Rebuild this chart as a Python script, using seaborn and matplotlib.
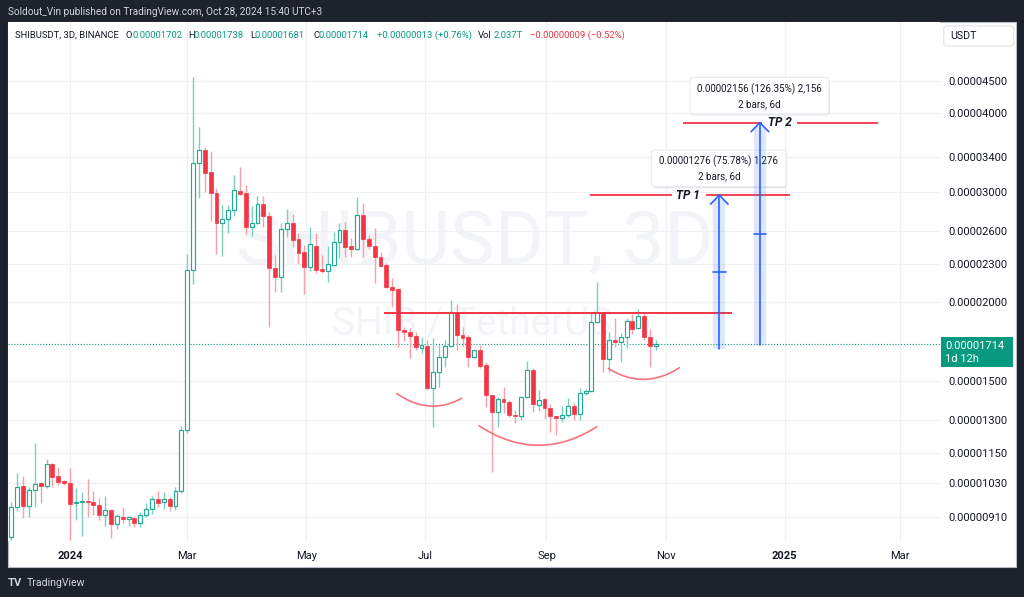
import numpy as np
import pandas as pd
import matplotlib
matplotlib.use("Agg")
import matplotlib.pyplot as plt
import matplotlib.dates as mdates
from matplotlib.patches import Rectangle, FancyBboxPatch
from matplotlib.ticker import FixedLocator, NullLocator
import seaborn as sns

# ---------------- data (prices in units of 1e-8 USDT) ----------------
first_bar = "2023-12-02"
bar_step = "3D"
price_unit = 1e-8

opens = [846, 944, 1019, 947, 1004, 1029, 1020, 1105, 1057, 1038,
         1032, 956, 960, 965, 962, 950, 918, 933, 887, 909,
         903, 907, 889, 918, 937, 972, 960, 973, 947, 1001,
         1251, 2250, 3328, 3494, 3220, 2981, 2676, 2710, 2804, 3007,
         2981, 2632, 2670, 2867, 2745, 2264, 2195, 2613, 2676, 2521,
         2401, 2272, 2460, 2256, 2244, 2293, 2496, 2606, 2455, 2427,
         2752, 2518, 2455, 2362, 2291, 2117, 2096, 1806, 1795, 1769,
         1692, 1705, 1458, 1546, 1634, 1705, 1931, 1773, 1758, 1634,
         1678, 1588, 1423, 1339, 1402, 1385, 1322, 1319, 1411, 1559,
         1372, 1400, 1357, 1317, 1306, 1322, 1366, 1326, 1431, 1444,
         1857, 1931, 1621, 1741, 1725, 1758, 1868, 1817, 1900, 1762,
         1702]
highs = [962, 1069, 1057, 1016, 1193, 1036, 1125, 1109, 1094, 1042,
         1088, 1011, 998, 1046, 1001, 975, 982, 935, 919, 942,
         912, 910, 926, 956, 982, 1001, 996, 978, 1016, 1270,
         2386, 4571, 3797, 3529, 3485, 3037, 2856, 2856, 3187, 3286,
         3073, 2848, 2951, 2951, 2787, 2377, 2670, 2811, 2762, 2574,
         2466, 2632, 2574, 2377, 2460, 2584, 2670, 2680, 2528, 2944,
         2880, 2558, 2628, 2406, 2306, 2182, 2104, 1828, 1817, 1795,
         1758, 1741, 1752, 1710, 1741, 2016, 1984, 1828, 1773, 1680,
         1710, 1608, 1425, 1413, 1463, 1397, 1347, 1419, 1612, 1569,
         1449, 1406, 1377, 1317, 1366, 1406, 1380, 1458, 1454, 1927,
         2156, 1931, 1795, 1885, 1783, 1889, 1915, 1948, 1924, 1810,
         1738]
lows = [834, 931, 907, 910, 944, 956, 1011, 1016, 1023, 1023,
        834, 900, 848, 910, 916, 900, 880, 841, 869, 891,
        880, 876, 878, 910, 919, 942, 938, 931, 933, 994,
        1237, 2137, 2927, 2999, 2696, 2383, 2368, 2580, 2742, 2963,
        2568, 2549, 2664, 2637, 1828, 2078, 2078, 2542, 2450, 2300,
        2058, 2244, 2228, 2223, 2156, 2288, 2347, 2362, 2362, 2421,
        2362, 2427, 2143, 2272, 2104, 1962, 1695, 1735, 1631, 1678,
        1661, 1449, 1263, 1466, 1578, 1699, 1678, 1705, 1578, 1632,
        1569, 1363, 1074, 1266, 1331, 1314, 1285, 1298, 1406, 1339,
        1343, 1301, 1243, 1228, 1290, 1314, 1298, 1298, 1423, 1440,
        1855, 1547, 1547, 1695, 1608, 1689, 1780, 1811, 1741, 1578,
        1681]
closes = [944, 1016, 947, 1004, 1027, 1020, 1105, 1055, 1036, 1032,
          954, 962, 965, 961, 950, 918, 933, 887, 912, 902,
          908, 889, 918, 937, 972, 959, 973, 947, 1001, 1251,
          2250, 3328, 3494, 3208, 2981, 2676, 2713, 2804, 3018, 2974,
          2632, 2670, 2867, 2742, 2264, 2195, 2613, 2676, 2512, 2397,
          2272, 2473, 2250, 2244, 2297, 2496, 2606, 2450, 2427, 2752,
          2518, 2455, 2362, 2283, 2112, 2091, 1806, 1791, 1769, 1695,
          1707, 1458, 1546, 1634, 1705, 1927, 1773, 1752, 1637, 1678,
          1582, 1423, 1339, 1400, 1385, 1322, 1319, 1411, 1559, 1377,
          1397, 1357, 1317, 1306, 1322, 1366, 1326, 1431, 1444, 1857,
          1931, 1621, 1739, 1725, 1758, 1868, 1813, 1900, 1762, 1702,
          1714]

price_ticks = [0.00000910, 0.00001030, 0.00001150, 0.00001300, 0.00001500,
               0.00002000, 0.00002300, 0.00002600, 0.00003000, 0.00003400,
               0.00004000, 0.00004500]
time_tick_dates = ["2024-01-01", "2024-03-01", "2024-05-01", "2024-07-01",
                   "2024-09-01", "2024-11-01", "2025-01-01", "2025-03-01"]
time_tick_labels = ["2024", "Mar", "May", "Jul", "Sep", "Nov", "2025", "Mar"]
bold_time_labels = ["2024", "2025"]

last_price = 0.00001714
last_price_text = ["0.00001714", "1d 12h"]

neckline_price = 0.00001924
neckline_span = ["2024-06-10 00:00", "2024-12-04 19:00"]

tp_labels = ["TP 1", "TP 2"]
tp_prices = [0.00002960, 0.00003862]
tp_left_spans = [["2024-09-23 07:00", "2024-11-04 05:00"],
                 ["2024-11-09 22:00", "2024-12-20 07:00"]]
tp_right_spans = [["2024-11-21 14:00", "2025-01-03 17:00"],
                  ["2025-01-07 05:00", "2025-02-17 17:00"]]
tp_label_dates = ["2024-11-12 10:00", "2024-12-29 12:00"]

measure_dates = ["2024-11-28 12:00", "2024-12-19 07:00"]
measure_base = [0.00001684, 0.00001706]
measure_text = ["0.00001276 (75.78%) 1,276", "0.00002156 (126.35%) 2,156"]
measure_sub = ["2 bars, 6d", "2 bars, 6d"]

arc_dates = [["2024-06-16 07:00", "2024-07-04 05:00", "2024-07-19 14:00"],
             ["2024-07-28 10:00", "2024-08-30 10:00", "2024-09-26 17:00"],
             ["2024-10-02 14:00", "2024-10-20 14:00", "2024-11-08 00:00"]]
arc_prices = [[0.00001431, 0.00001366, 0.00001406],
              [0.00001271, 0.00001184, 0.00001266],
              [0.00001569, 0.00001507, 0.00001572]]

header_text = "Soldout_Vin published on TradingView.com, Oct 28, 2024 15:40 UTC+3"
legend_parts = [("SHIBUSDT, 3D, BINANCE", "dark", 15), ("O", "dark", 125),
                ("0.00001702", "up", 132.3), ("H", "dark", 188.5),
                ("0.00001738", "up", 194), ("L", "dark", 250.5),
                ("0.00001681", "up", 254.5), ("C", "dark", 313),
                ("0.00001714", "up", 318.3), ("+0.00000013 (+0.76%)", "up", 376.7),
                ("Vol", "dark", 477.7), ("2.037T", "up", 493.3),
                ("\u22120.00000009 (\u22120.52%)", "down", 530.3)]

# ---------------- style ----------------
sns.set_theme(style="white")
plt.rcParams["font.family"] = ["Roboto", "DejaVu Sans"]

BG_DARK = "#1e222d"
TXT = "#131722"
GRID = "#eef0f4"
UP = "#22ab94"
DOWN = "#f23645"
UP_WICK = "#7fcdbf"
DOWN_WICK = "#f7a0a8"
BLUE = "#2962ff"
ARC = "#f7727d"
WATER = "#f3f4f7"
colmap = {"dark": TXT, "up": "#089981", "down": DOWN}

W, H = 1024, 597
def fx(px):
    return px / W
def fy(py):
    return 1 - py / H
def dnum(strings):
    return mdates.date2num([pd.Timestamp(s) for s in strings])

fig = plt.figure(figsize=(10.24, 5.97), dpi=100, facecolor=BG_DARK)

# white chart panel
fig.add_artist(Rectangle((fx(8), fy(567)), fx(1016) - fx(8), fy(22) - fy(567),
                         transform=fig.transFigure, facecolor="white",
                         edgecolor="#b8bcc6", lw=0.8, zorder=-5))

ax = fig.add_axes([fx(8), fy(541), fx(940) - fx(8), fy(22) - fy(541)])
ax.set_facecolor("white")
for s in ax.spines.values():
    s.set_visible(False)

dates = pd.date_range(first_bar, periods=len(opens), freq=bar_step)
xd = mdates.date2num(dates)
o = np.array(opens) * price_unit
h = np.array(highs) * price_unit
l = np.array(lows) * price_unit
c = np.array(closes) * price_unit
up = c >= o

ax.set_yscale("log")

# wicks
ax.vlines(xd[up], l[up], h[up], color=UP_WICK, lw=1.0, zorder=2)
ax.vlines(xd[~up], l[~up], h[~up], color=DOWN_WICK, lw=1.0, zorder=2)
# bodies (hollow up candles, filled down candles)
body_w = 2.0
ax.bar(xd[up], (c - o)[up], bottom=o[up], width=body_w, facecolor="white",
       edgecolor=UP, lw=0.85, zorder=3)
ax.bar(xd[~up], (o - c)[~up], bottom=c[~up], width=body_w, facecolor=DOWN,
       edgecolor=DOWN, lw=0.5, zorder=3)

# axes limits
base = mdates.date2num(pd.Timestamp("2024-01-01"))
ax.set_xlim(base - 31.75, base + 445.5)
ax.set_ylim(8.33e-6, 55.86e-6)

# ticks
ax.yaxis.set_major_locator(FixedLocator(price_ticks))
ax.yaxis.set_minor_locator(NullLocator())
ax.set_yticklabels([f"{v:.8f}" for v in price_ticks])
ax.tick_params(axis="y", which="both", length=0, pad=5.8, labelsize=8,
               labelcolor=TXT, right=True, labelright=True, left=False,
               labelleft=False)
tick_x = dnum(time_tick_dates)
ax.set_xticks(tick_x)
ax.set_xticklabels(time_tick_labels)
ax.tick_params(axis="x", length=0, pad=7, labelsize=8, labelcolor=TXT)
for lab in ax.get_xticklabels():
    if lab.get_text() in bold_time_labels:
        lab.set_fontweight("bold")
ax.grid(True, which="major", color=GRID, lw=0.9, zorder=0)
ax.set_axisbelow(True)

# watermark
ax.text(fx(475), fy(244), "SHIBUSDT, 3D", transform=fig.transFigure,
        ha="center", va="center", fontsize=54, color=WATER, zorder=0.5)
ax.text(fx(472), fy(325), "SHIB / TetherUS", transform=fig.transFigure,
        ha="center", va="center", fontsize=28, color=WATER, zorder=0.5)

# last price dotted line
ax.axhline(last_price, color="#089981", lw=0.8, ls=(0, (1, 1.6)), zorder=1.5)

# neckline
nx = dnum(neckline_span)
ax.plot(nx, [neckline_price, neckline_price], color=DOWN, lw=1.4, zorder=4,
        solid_capstyle="butt")

# arcs (rounded bottoms), drawn with seaborn
for dts, prs in zip(arc_dates, arc_prices):
    xn = dnum(dts)
    coef = np.polyfit(xn - xn[0], np.log(prs), 2)
    xs = np.linspace(xn[0], xn[-1], 80)
    ys = np.exp(np.polyval(coef, xs - xn[0]))
    sns.lineplot(x=xs, y=ys, ax=ax, color=ARC, lw=1.2, sort=False,
                 estimator=None, legend=False, zorder=4)
ax.set_xlabel("")
ax.set_ylabel("")

# take-profit lines with labels
for lab, pr, ls_, rs_, ld in zip(tp_labels, tp_prices, tp_left_spans,
                                 tp_right_spans, tp_label_dates):
    for span in (ls_, rs_):
        sx = dnum(span)
        ax.plot(sx, [pr, pr], color=DOWN, lw=1.3, zorder=4, solid_capstyle="butt")
    ax.text(dnum([ld])[0], pr, lab, ha="center",
            va="center", fontsize=8.5, fontweight="bold", fontstyle="italic",
            color=TXT, zorder=4)

# measurement arrows and tooltips
px_per_ln = 272.7
box_geo = [(651.7, 150, 786, 186.7), (690, 77.3, 829, 114)]
for k, (md, b, t) in enumerate(zip(measure_dates, measure_base, tp_prices)):
    xc = dnum([md])[0]
    z = 6 + 2 * k
    ax.fill_between([xc - 3.07, xc + 3.07], b, t / np.exp(4 / px_per_ln),
                    color=BLUE, alpha=0.15, lw=0, zorder=z)
    ax.plot([xc, xc], [b, t], color=BLUE, lw=1.2, zorder=z + 0.5)
    kf = np.exp(9 / px_per_ln)
    ax.plot([xc - 4.5, xc, xc + 4.5], [t / kf, t, t / kf], color=BLUE, lw=1.2,
            zorder=z + 0.5, solid_joinstyle="miter")
    mid = np.sqrt(b * t)
    ax.plot([xc - 3.2, xc + 3.2], [mid, mid], color=BLUE, lw=1.2, zorder=z + 0.5)

for k, (geo, t1, t2) in enumerate(zip(box_geo, measure_text, measure_sub)):
    x0, y0, x1, y1 = geo
    z = 5 + 2 * k
    shadow = FancyBboxPatch((fx(x0) + 0.0008, fy(y1) - 0.0025), fx(x1) - fx(x0),
                            fy(y0) - fy(y1), boxstyle="round,pad=0,rounding_size=0.004",
                            transform=fig.transFigure, facecolor="#e6e8ee",
                            edgecolor="none", zorder=z - 0.2)
    ax.add_patch(shadow)
    box = FancyBboxPatch((fx(x0), fy(y1)), fx(x1) - fx(x0), fy(y0) - fy(y1),
                         boxstyle="round,pad=0,rounding_size=0.004",
                         transform=fig.transFigure, facecolor="white",
                         edgecolor="#e3e5ea", lw=0.6, zorder=z)
    ax.add_patch(box)
    cx = fx((x0 + x1) / 2)
    ax.text(cx, fy(y0 + 11.5), t1, transform=fig.transFigure, ha="center",
            va="center", fontsize=7, color=TXT, zorder=z + 0.1)
    ax.text(cx, fy(y0 + 26.5), t2, transform=fig.transFigure, ha="center",
            va="center", fontsize=7, color=TXT, zorder=z + 0.1)

# ---------------- figure-level decorations ----------------
fig.text(fx(8), fy(12), header_text, ha="left", va="center", fontsize=7.2,
         color="#d1d4dc")
for txt, col, xp in legend_parts:
    fig.text(fx(xp), fy(35), txt, ha="left", va="center", fontsize=6.8,
             color=colmap[col], zorder=5)

# USDT box
fig.add_artist(FancyBboxPatch((fx(943.7), fy(46)), fx(1013.7) - fx(943.7),
                              fy(26) - fy(46), boxstyle="round,pad=0,rounding_size=0.004",
                              transform=fig.transFigure, facecolor="white",
                              edgecolor="#e0e3eb", lw=0.8, zorder=5))
fig.text(fx(950.5), fy(36), "USDT", ha="left", va="center", fontsize=7.7,
         color=TXT, zorder=6)

# last price label on price scale
fig.add_artist(Rectangle((fx(940.7), fy(366.7)), fx(1012.7) - fx(940.7),
                         fy(336.7) - fy(366.7), transform=fig.transFigure,
                         facecolor="#089981", edgecolor="none", zorder=5))
fig.text(fx(945), fy(346), last_price_text[0], ha="left", va="center",
         fontsize=8, color="white", zorder=6)
fig.text(fx(945), fy(359), last_price_text[1], ha="left", va="center",
         fontsize=8, color="white", zorder=6)

# TradingView footer
fig.text(fx(8), fy(582.5), "TV", ha="left", va="center", fontsize=8,
         fontweight="bold", color="#d1d4dc")
fig.text(fx(27), fy(582.5), "TradingView", ha="left", va="center",
         fontsize=7.6, color="#d1d4dc")

fig.savefig("out.png", dpi=100, facecolor=BG_DARK)
